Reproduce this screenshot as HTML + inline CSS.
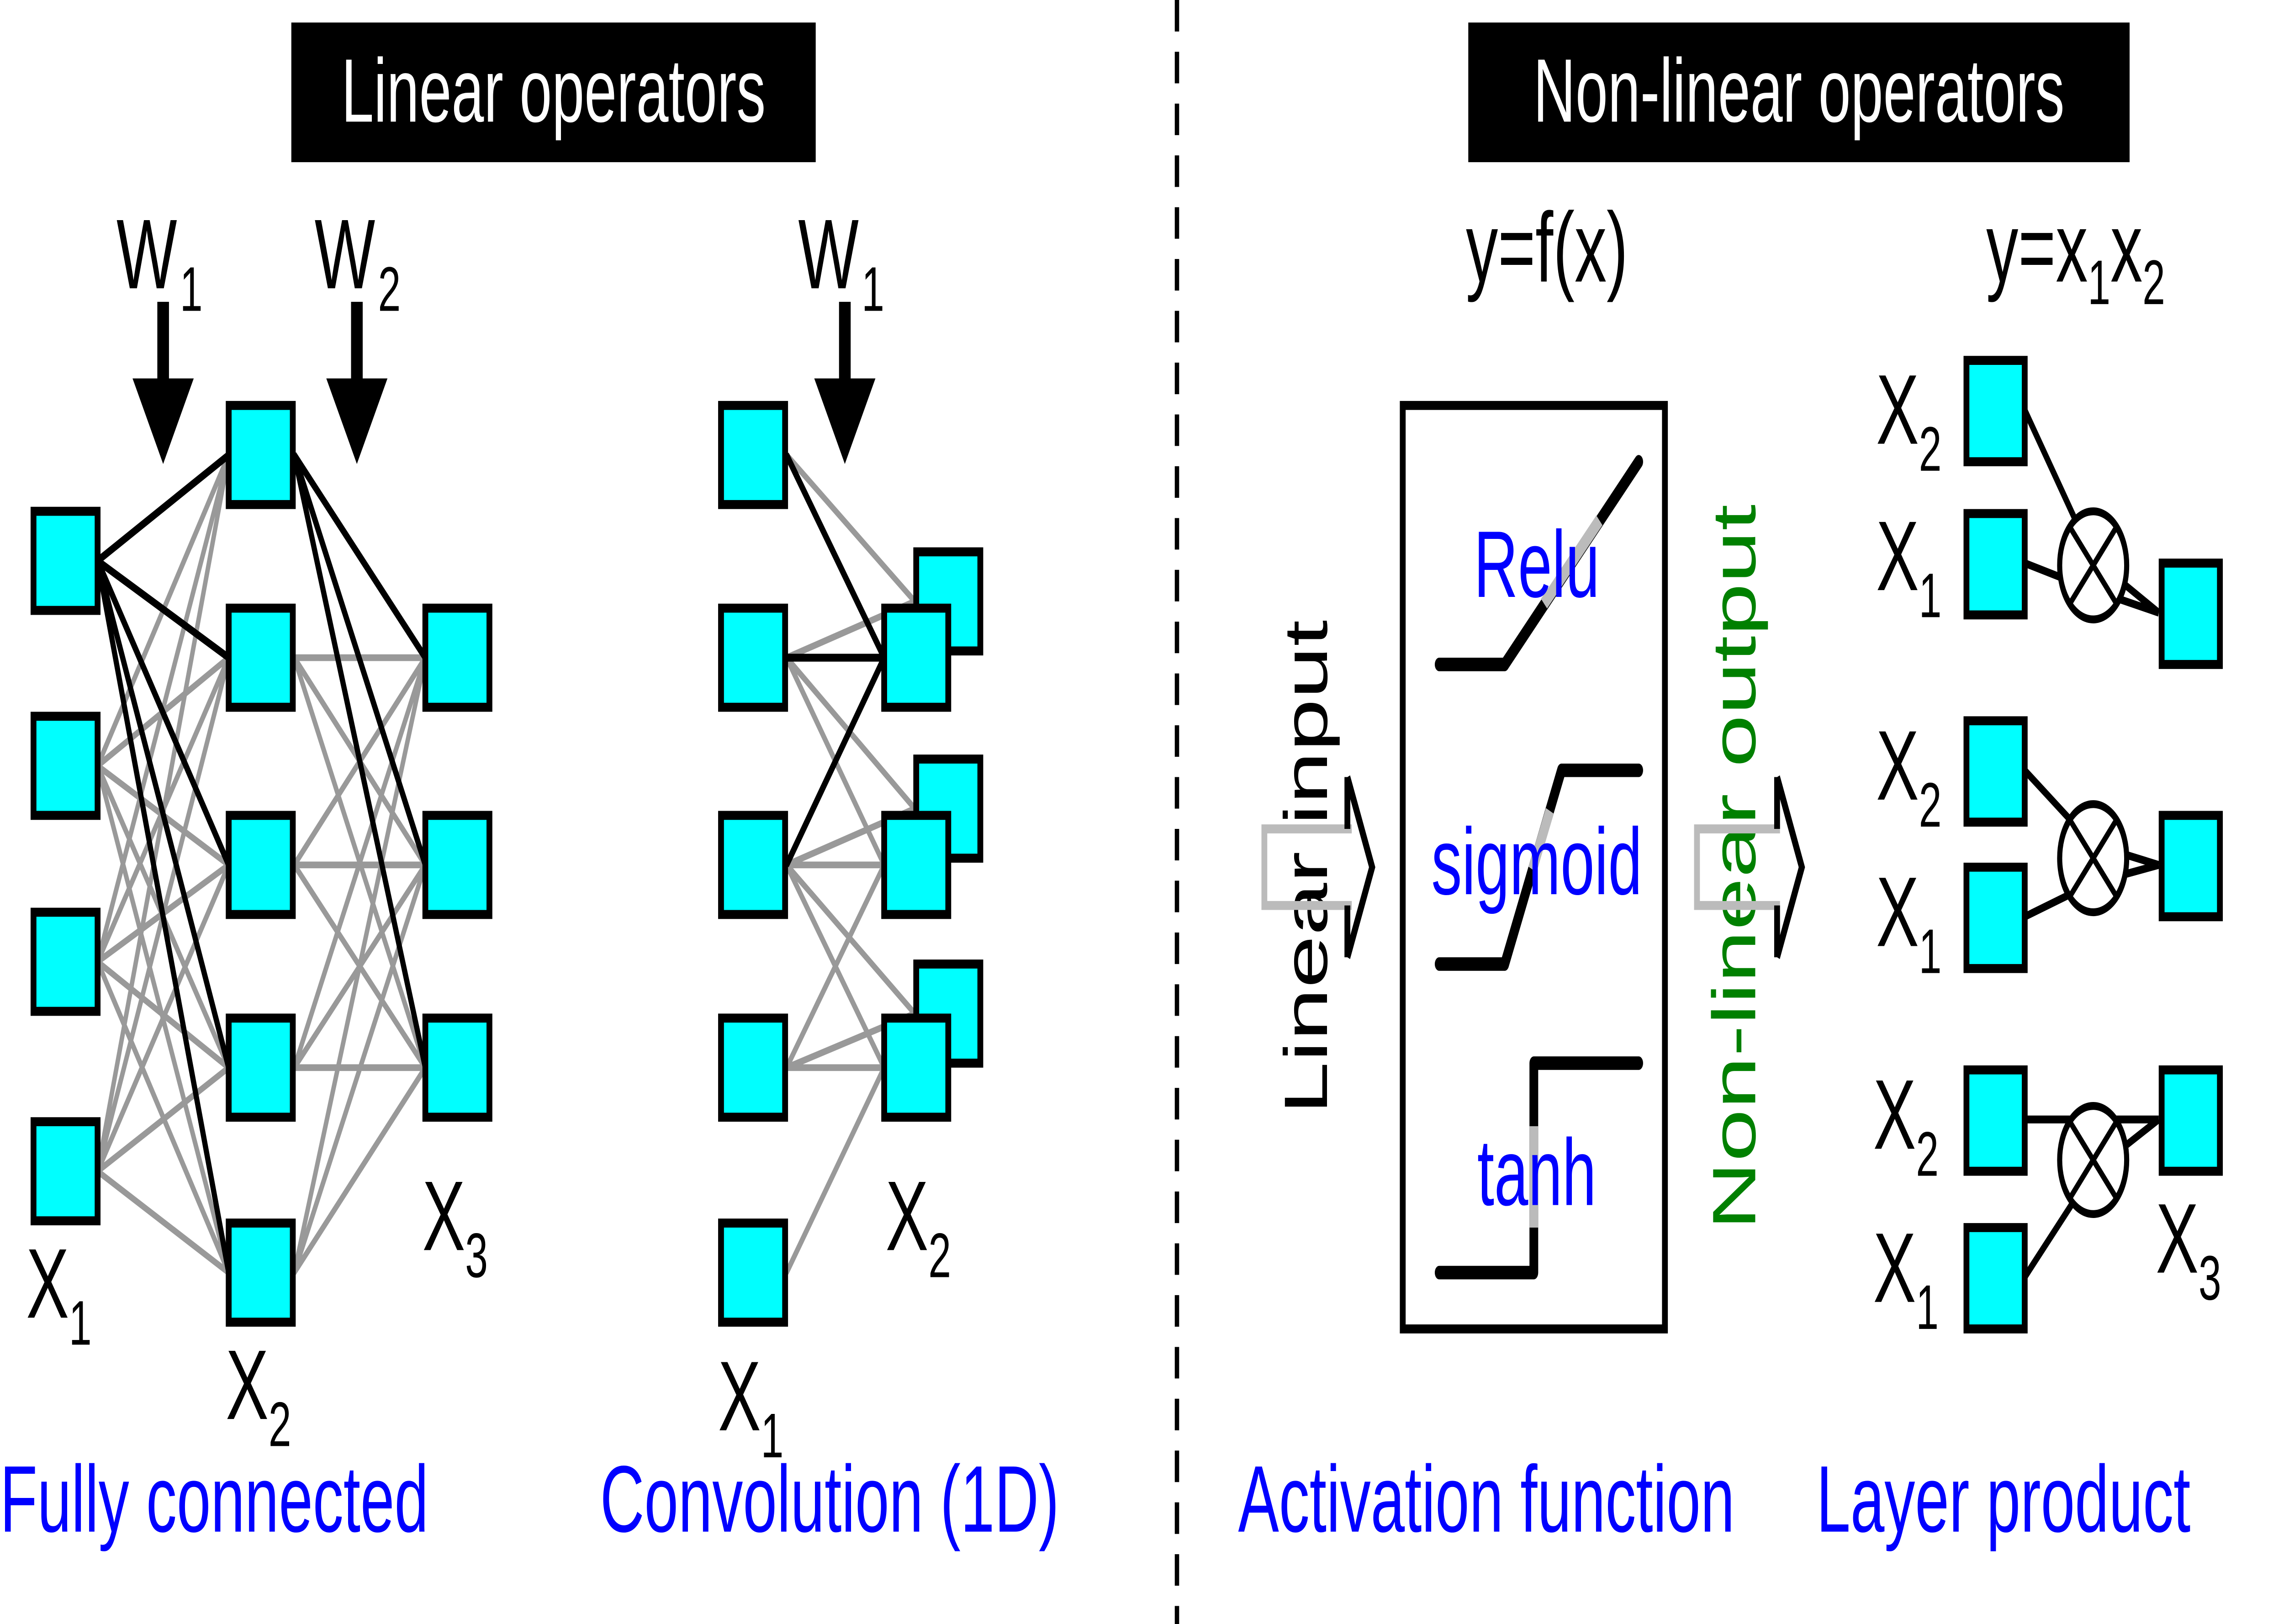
<!DOCTYPE html>
<html><head><meta charset="utf-8"><style>
html,body{margin:0;padding:0;background:#fff;width:100%;height:100%;overflow:hidden;}
svg{display:block;width:100vw;height:100vh;}
text{font-family:"Liberation Sans",sans-serif;}
</style></head><body>
<svg viewBox="0 0 1568 721" preserveAspectRatio="none" xmlns="http://www.w3.org/2000/svg">
<rect width="1568" height="721" fill="#fff"/>
<rect x="200" y="10" width="360" height="62" fill="#000"/>
<text x="380" y="54" font-size="40" fill="#fff" text-anchor="middle">Linear operators</text>
<rect x="1008" y="10" width="454" height="62" fill="#000"/>
<text x="1235" y="54" font-size="40" fill="#fff" text-anchor="middle">Non-linear operators</text>
<line x1="808" y1="0" x2="808" y2="721" stroke="#000" stroke-width="3" stroke-dasharray="14,9"/>

<g stroke="#999" stroke-width="3">
<path d="M67,249L157,202M67,249L157,292M67,249L157,384M67,249L157,474M67,249L157,565
M67,340L157,202M67,340L157,292M67,340L157,384M67,340L157,474M67,340L157,565
M67,427L157,202M67,427L157,292M67,427L157,384M67,427L157,474M67,427L157,565
M67,520L157,202M67,520L157,292M67,520L157,384M67,520L157,474M67,520L157,565
M202,202L292,292M202,202L292,384M202,202L292,474
M202,292L292,292M202,292L292,384M202,292L292,474
M202,384L292,292M202,384L292,384M202,384L292,474
M202,474L292,292M202,474L292,384M202,474L292,474
M202,565L292,292M202,565L292,384M202,565L292,474"/>
</g>
<g stroke="#000" stroke-width="3.5">
<path d="M67,249L157,202M67,249L157,292M67,249L157,384M67,249L157,474M67,249L157,565
M202,202L292,292M202,202L292,384M202,202L292,474"/>
</g>
<g stroke="#999" stroke-width="3">
<path d="M540,202L628,267M540,292L628,267M540,292L607,292M540,292L607,384M540,292L628,359
M540,384L607,292M540,384L607,384M540,384L607,474M540,384L628,359M540,384L628,450
M540,474L607,384M540,474L607,474M540,474L628,450M540,565L607,474"/>
</g>
<g stroke="#000" stroke-width="3.5">
<path d="M540,202L607,292M540,292L607,292M540,384L607,292"/>
</g>

<g fill="#00ffff" stroke="#000" stroke-width="4">
<rect x="23" y="227" width="44" height="44"/><rect x="23" y="318" width="44" height="44"/>
<rect x="23" y="405" width="44" height="44"/><rect x="23" y="498" width="44" height="44"/>
<rect x="157" y="180" width="44" height="44"/><rect x="157" y="270" width="44" height="44"/>
<rect x="157" y="362" width="44" height="44"/><rect x="157" y="452" width="44" height="44"/>
<rect x="157" y="543" width="44" height="44"/>
<rect x="292" y="270" width="44" height="44"/><rect x="292" y="362" width="44" height="44"/>
<rect x="292" y="452" width="44" height="44"/>
<rect x="495" y="180" width="44" height="44"/><rect x="495" y="270" width="44" height="44"/>
<rect x="495" y="362" width="44" height="44"/><rect x="495" y="452" width="44" height="44"/>
<rect x="495" y="543" width="44" height="44"/>
<rect x="629" y="245" width="44" height="44"/><rect x="629" y="337" width="44" height="44"/>
<rect x="629" y="428" width="44" height="44"/>
<rect x="607" y="270" width="44" height="44"/><rect x="607" y="362" width="44" height="44"/>
<rect x="607" y="452" width="44" height="44"/>
</g>

<g fill="#000">
<rect x="108" y="134" width="8" height="36"/><polygon points="91,168 133,168 112,206"/>
<rect x="241" y="134" width="8" height="36"/><polygon points="224,168 266,168 245,206"/>
<rect x="576" y="134" width="8" height="36"/><polygon points="559,168 601,168 580,206"/>
</g>
<g font-size="44" fill="#000">
<text x="80" y="128">W<tspan font-size="28" dx="2" dy="10">1</tspan></text>
<text x="216" y="128">W<tspan font-size="28" dx="2" dy="10">2</tspan></text>
<text x="548" y="128">W<tspan font-size="28" dx="2" dy="10">1</tspan></text>
<text x="18" y="585">X<tspan font-size="28" dy="12">1</tspan></text>
<text x="155" y="630">X<tspan font-size="28" dy="12">2</tspan></text>
<text x="290" y="555">X<tspan font-size="28" dy="12">3</tspan></text>
<text x="493" y="635">X<tspan font-size="28" dy="12">1</tspan></text>
<text x="608" y="555">X<tspan font-size="28" dy="12">2</tspan></text>
</g>
<g font-size="42" fill="#0000ff">
<text x="0" y="680">Fully connected</text>
<text x="412" y="680">Convolution (1D)</text>
<text x="850" y="680">Activation function</text>
<text x="1247" y="680">Layer product</text>
</g>

<text x="1062" y="125" font-size="44" text-anchor="middle">y=f(x)</text>
<rect x="963" y="180" width="180" height="410" fill="none" stroke="#000" stroke-width="4"/>
<g fill="none" stroke="#000" stroke-width="6" stroke-linecap="round" stroke-linejoin="round">
<path d="M988,295L1033,295L1125,205"/>
<path d="M988,428L1033,428L1072,342L1125,342"/>
<path d="M988,565L1053,565L1053,472L1125,472"/>
</g>
<g stroke="#bbb" stroke-width="6">
<path d="M1060,268L1098,231"/><path d="M1052,386L1064,360"/><path d="M1053,545L1053,500"/>
</g>
<g font-size="42" fill="#0000ff" text-anchor="middle">
<text x="1055" y="265">Relu</text>
<text x="1055" y="397">sigmoid</text>
<text x="1055" y="535">tanh</text>
</g>
<text transform="translate(911,385) rotate(-90)" font-size="42" text-anchor="middle">Linear input</text>
<text transform="translate(1205,385) rotate(-90)" font-size="42" text-anchor="middle" fill="#008000">Non-linear output</text>
<g fill="none" stroke="#bbb" stroke-width="4">
<path d="M928,368L868,368L868,402L928,402"/>
<path d="M1222,368L1165,368L1165,402L1222,402"/>
</g>
<g fill="none" stroke="#000" stroke-width="4">
<path d="M925,345L942,385L925,425M925,345L925,368M925,402L925,425"/>
<path d="M1220,345L1237,385L1220,425M1220,345L1220,368M1220,402L1220,425"/>
</g>

<text x="1425" y="125" font-size="44" text-anchor="middle">y=x<tspan font-size="28" dy="10">1</tspan><tspan dy="-10">x</tspan><tspan font-size="28" dy="10">2</tspan></text>
<g stroke="#000" stroke-width="3.5" fill="none">
<path d="M1390,182L1437,248L1482,272M1390,250L1437,262L1482,272"/>
<path d="M1390,342L1437,375L1482,384M1390,407L1437,392L1482,384"/>
<path d="M1390,497L1482,497M1390,567L1437,520L1482,497"/>
</g>
<g stroke="#000" stroke-width="3.5" fill="#fff">
<ellipse cx="1437" cy="251" rx="23" ry="24"/>
<ellipse cx="1437" cy="381" rx="23" ry="24"/>
<ellipse cx="1437" cy="515" rx="23" ry="24"/>
</g>
<g stroke="#000" stroke-width="3">
<path d="M1421,234L1453,268M1453,234L1421,268"/>
<path d="M1421,364L1453,398M1453,364L1421,398"/>
<path d="M1421,498L1453,532M1453,498L1421,532"/>
</g>
<g fill="#00ffff" stroke="#000" stroke-width="4">
<rect x="1350" y="160" width="40" height="45"/><rect x="1350" y="228" width="40" height="45"/>
<rect x="1484" y="250" width="40" height="45"/>
<rect x="1350" y="320" width="40" height="45"/><rect x="1350" y="385" width="40" height="45"/>
<rect x="1484" y="362" width="40" height="45"/>
<rect x="1350" y="475" width="40" height="45"/><rect x="1350" y="545" width="40" height="45"/>
<rect x="1484" y="475" width="40" height="45"/>
</g>
<g font-size="44" fill="#000">
<text x="1288" y="197">X<tspan font-size="28" dy="12">2</tspan></text>
<text x="1288" y="262">X<tspan font-size="28" dy="12">1</tspan></text>
<text x="1288" y="355">X<tspan font-size="28" dy="12">2</tspan></text>
<text x="1288" y="420">X<tspan font-size="28" dy="12">1</tspan></text>
<text x="1286" y="510">X<tspan font-size="28" dy="12">2</tspan></text>
<text x="1286" y="578">X<tspan font-size="28" dy="12">1</tspan></text>
<text x="1480" y="565">X<tspan font-size="28" dy="12">3</tspan></text>
</g>
</svg>
</body></html>
